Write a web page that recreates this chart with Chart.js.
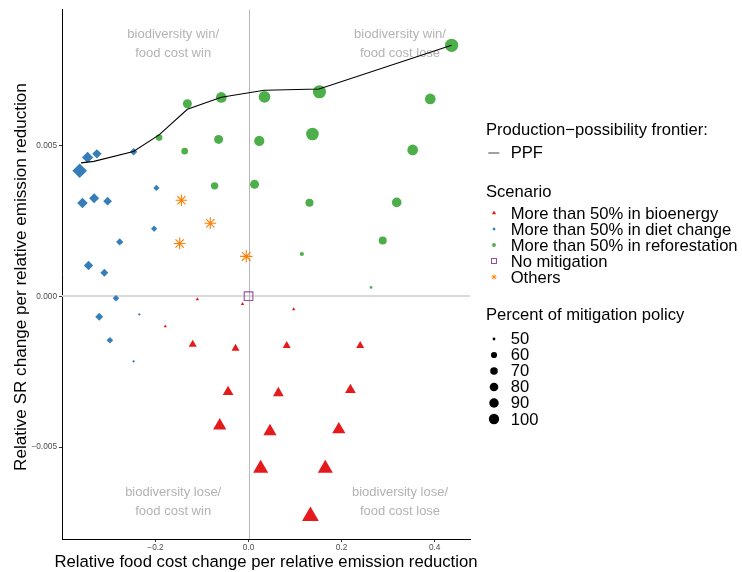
<!DOCTYPE html>
<html>
<head>
<meta charset="utf-8">
<script src="https://cdn.jsdelivr.net/npm/chart.js@4.4.0/dist/chart.umd.min.js"></script>
<style>
  body { margin: 0; background: #fff; font-family: "Liberation Sans", Arial, sans-serif; }
  #wrap { position: relative; width: 742px; height: 572px; }
  #legend { position: absolute; left: 0; top: 0; width: 742px; height: 572px; pointer-events: none; }
  .lg { position: absolute; font-size: 16.6px; line-height: 20px; color: #000; white-space: nowrap; }
  .key { position: absolute; width: 14px; height: 14px; }
</style>
</head>
<body>
<div id="wrap">
  <canvas id="chart" width="742" height="572"></canvas>
  <div id="legend"></div>
</div>
<script>
// Scenario: more than 50% in bioenergy
const bioX = [-0.110, -0.013, 0.097, -0.179, -0.120, -0.028, 0.082, 0.240, -0.044, 0.064, 0.219, -0.062, 0.046, 0.194, 0.026, 0.165, 0.133];
const bioY = [-0.00010, -0.00026, -0.00043, -0.00100, -0.00160, -0.00173, -0.00164, -0.00164, -0.00317, -0.00321, -0.00311, -0.00429, -0.00448, -0.00442, -0.00571, -0.00571, -0.00729];
const bioPct = [50, 50, 50, 50, 56, 56, 56, 56, 65, 65, 65, 77, 77, 77, 88, 88, 100];

// Scenario: more than 50% in diet change
const dietX = [-0.363, -0.346, -0.326, -0.247, -0.198, -0.357, -0.332, -0.303, -0.203, -0.277, -0.344, -0.310, -0.285, -0.321, -0.235, -0.298, -0.247];
const dietY = [0.00416, 0.00460, 0.00472, 0.00479, 0.00359, 0.00309, 0.00325, 0.00315, 0.00224, 0.00180, 0.00102, 0.00078, -0.00007, -0.00068, -0.00060, -0.00146, -0.00216];
const dietPct = [99, 75, 65, 57, 54, 71, 68, 62, 54, 57, 65, 59, 55, 59, 50, 55, 50];

// Scenario: more than 50% in reforestation
const forestX = [0.4365, 0.3906, 0.1524, 0.0343, -0.0586, -0.1315, 0.1373, 0.0230, -0.0644, -0.1923, -0.1373, 0.3528, -0.0730, 0.0129, 0.1309, 0.3185, 0.2884, 0.1146, 0.2633];
const forestY = [0.00832, 0.00654, 0.00678, 0.00661, 0.00659, 0.00638, 0.00538, 0.00515, 0.00520, 0.00526, 0.00481, 0.00485, 0.00366, 0.00371, 0.00310, 0.00311, 0.00185, 0.00140, 0.00029];
const forestPct = [100, 79, 100, 87, 79, 68, 95, 76, 68, 57, 57, 79, 60, 68, 63, 72, 63, 51, 50];

// Scenario: no mitigation
const noneX = [0];
const noneY = [0];

// Scenario: others
const otherX = [-0.1444, -0.0822, -0.1481, -0.0049];
const otherY = [0.00318, 0.00242, 0.00175, 0.00132];
const otherPct = [85, 87, 87, 92];

// Production-possibility frontier
const ppfX = [-0.3601, -0.3326, -0.2474, -0.1923, -0.1315, -0.0586, 0.0337, 0.1517, 0.4365];
const ppfY = [0.00442, 0.00447, 0.00480, 0.00535, 0.00620, 0.00660, 0.00683, 0.00687, 0.00832];

const scenarioNames = ['More than 50% in bioenergy', 'More than 50% in diet change', 'More than 50% in reforestation', 'No mitigation', 'Others'];
const sizeBreaks = [50, 60, 70, 80, 90, 100];
const xTicks = [-0.2, 0, 0.2, 0.4];
const yTicks = [-0.005, 0, 0.005];
const xTitle = 'Relative food cost change per relative emission reduction';
const yTitle = 'Relative SR change per relative emission reduction';

const quadrantText = [
  { x: -0.162, y: 0.008235, lines: ['biodiversity win/', 'food cost win'] },
  { x: 0.3255, y: 0.008235, lines: ['biodiversity win/', 'food cost lose'] },
  { x: -0.162, y: -0.00694, lines: ['biodiversity lose/', 'food cost win'] },
  { x: 0.3255, y: -0.00694, lines: ['biodiversity lose/', 'food cost lose'] }
];

const FONT = '"Liberation Sans", Arial, sans-serif';
const colors = { bio: '#E41A1C', diet: '#377EB8', forest: '#4DAF4A', none: '#984EA3', other: '#FF7F00' };

// ggplot-like area scale for the percent
const sizeOf = p => 1 + 5 * Math.sqrt(Math.max(0, (p - 50) / 50));
const circleR = p => 1.05 * sizeOf(p) + 0.3;
const diamondR = p => 1.2 * sizeOf(p) + 0.2;
const triangleR = p => 1.55 * sizeOf(p) + 0.4;

const pts = (xs, ys, ps) => xs.map((x, i) => ({ x: x, y: ys[i], p: ps ? ps[i] : null }));
const minus = s => s.replace('-', '\u2212');

// zero lines + quadrant captions under the points
const refLines = {
  id: 'refLines',
  beforeDatasetsDraw(chart) {
    const { ctx, chartArea: a, scales: { x, y } } = chart;
    ctx.save();
    const py = Math.round(y.getPixelForValue(0));
    ctx.strokeStyle = '#d9d9d9';
    ctx.lineWidth = 2;
    ctx.beginPath(); ctx.moveTo(a.left, py); ctx.lineTo(a.right, py); ctx.stroke();
    const px = Math.round(x.getPixelForValue(0)) + 0.5;
    ctx.strokeStyle = '#b8b8b8';
    ctx.lineWidth = 1;
    ctx.beginPath(); ctx.moveTo(px, a.top); ctx.lineTo(px, a.bottom); ctx.stroke();

    ctx.fillStyle = '#b3b3b3';
    ctx.font = '13px ' + FONT;
    ctx.textAlign = 'center';
    ctx.textBaseline = 'alphabetic';
    quadrantText.forEach(q => {
      const cx = x.getPixelForValue(q.x);
      const cy = y.getPixelForValue(q.y);
      ctx.fillText(q.lines[0], cx, cy - 9.5);
      ctx.fillText(q.lines[1], cx, cy + 9.5);
    });
    ctx.restore();
  }
};

// axis titles drawn by hand: the built-in x title gets squeezed to the plot width
const axisTitles = {
  id: 'axisTitles',
  afterDraw(chart) {
    const { ctx, chartArea: a } = chart;
    ctx.save();
    ctx.fillStyle = '#000';
    ctx.textAlign = 'center';
    ctx.textBaseline = 'alphabetic';
    ctx.font = '16.7px ' + FONT;
    ctx.fillText(xTitle, (a.left + a.right) / 2, chart.height - 5.3);
    ctx.font = '17.1px ' + FONT;
    ctx.translate(26, (a.top + a.bottom) / 2 + 2.7);
    ctx.rotate(-Math.PI / 2);
    ctx.fillText(yTitle, 0, 0);
    ctx.restore();
  }
};

new Chart(document.getElementById('chart'), {
  type: 'scatter',
  data: {
    datasets: [
      {
        label: 'PPF', data: pts(ppfX, ppfY), showLine: true, order: 0,
        borderColor: '#000', borderWidth: 1.1, pointRadius: 0, fill: false, tension: 0
      },
      {
        label: scenarioNames[0], data: pts(bioX, bioY, bioPct), order: 1,
        pointStyle: 'triangle', backgroundColor: colors.bio, borderWidth: 0,
        pointRadius: c => triangleR(c.raw.p)
      },
      {
        label: scenarioNames[1], data: pts(dietX, dietY, dietPct), order: 1,
        pointStyle: 'rectRot', backgroundColor: colors.diet, borderWidth: 0,
        pointRadius: c => diamondR(c.raw.p)
      },
      {
        label: scenarioNames[2], data: pts(forestX, forestY, forestPct), order: 1,
        pointStyle: 'circle', backgroundColor: colors.forest, borderWidth: 0,
        pointRadius: c => circleR(c.raw.p)
      },
      {
        label: scenarioNames[3], data: pts(noneX, noneY), order: 1,
        pointStyle: 'rect', backgroundColor: 'rgba(0,0,0,0)', borderColor: colors.none, borderWidth: 1.1,
        pointRadius: 6.1
      },
      {
        label: scenarioNames[4], data: pts(otherX, otherY, otherPct), order: 1,
        pointStyle: 'star', backgroundColor: colors.other, borderColor: colors.other, borderWidth: 1.1,
        pointRadius: c => circleR(c.raw.p)
      }
    ]
  },
  options: {
    responsive: false,
    animation: false,
    devicePixelRatio: 1,
    layout: { padding: { top: 9, right: 272, left: 0, bottom: 0 } },
    plugins: { legend: { display: false }, tooltip: { enabled: false } },
    scales: {
      x: {
        type: 'linear', min: -0.401, max: 0.476,
        afterFit: s => { s.height = 33; },
        afterBuildTicks: s => { s.ticks = xTicks.map(v => ({ value: v })); },
        ticks: {
          callback: v => minus(v.toFixed(1)),
          color: '#4d4d4d', font: { size: 8.3, family: FONT }, padding: 1,
          maxRotation: 0, autoSkip: false
        },
        grid: { drawOnChartArea: false, tickLength: 3, tickColor: '#333', tickWidth: 1 },
        border: { display: true, color: '#000', width: 1 },
        title: { display: false }
      },
      y: {
        type: 'linear', min: -0.00805, max: 0.0095,
        afterFit: s => { s.width = 62; },
        afterBuildTicks: s => { s.ticks = yTicks.map(v => ({ value: v })); },
        ticks: {
          callback: v => minus(v.toFixed(3)),
          color: '#4d4d4d', font: { size: 8.3, family: FONT }, padding: 2, autoSkip: false
        },
        grid: { drawOnChartArea: false, tickLength: 3, tickColor: '#333', tickWidth: 1 },
        border: { display: true, color: '#000', width: 1 },
        title: { display: false }
      }
    }
  },
  plugins: [refLines, axisTitles]
});

// Legend (HTML)
const legendEl = document.getElementById('legend');
const titleX = 486, keyX = 494, labelX = 510.7;

function addText(text, left, baseline) {
  const d = document.createElement('div');
  d.className = 'lg';
  d.textContent = text;
  d.style.left = left + 'px';
  d.style.top = (baseline - 15.75) + 'px';
  legendEl.appendChild(d);
}
function addKey(svg, cx, cy) {
  const d = document.createElement('div');
  d.className = 'key';
  d.style.left = (cx - 7) + 'px';
  d.style.top = (cy - 7) + 'px';
  d.innerHTML = '<svg width="14" height="14" viewBox="-7 -7 14 14">' + svg + '</svg>';
  legendEl.appendChild(d);
}

addText('Production\u2212possibility frontier:', titleX, 136);
addKey('<line x1="-5.7" y1="0" x2="5.3" y2="0" stroke="#444" stroke-width="1"/>', keyX, 153.3);
addText('PPF', labelX, 158.7);

addText('Scenario', titleX, 197.3);
const scenarioKeys = [
  '<polygon points="0,-2.4 2.1,1.3 -2.1,1.3" fill="' + colors.bio + '"/>',
  '<polygon points="0,-1.7 1.7,0 0,1.7 -1.7,0" fill="' + colors.diet + '"/>',
  '<circle cx="0" cy="0" r="1.9" fill="' + colors.forest + '"/>',
  '<rect x="-2.5" y="-2.5" width="5" height="5" fill="none" stroke="' + colors.none + '" stroke-width="1"/>',
  '<g stroke="' + colors.other + '" stroke-width="0.9"><line x1="-2.5" y1="0" x2="2.5" y2="0"/><line x1="0" y1="-2.5" x2="0" y2="2.5"/><line x1="-1.8" y1="-1.8" x2="1.8" y2="1.8"/><line x1="-1.8" y1="1.8" x2="1.8" y2="-1.8"/></g>'
];
scenarioNames.forEach((name, i) => {
  const base = 219.7 + 16.07 * i;
  addKey(scenarioKeys[i], keyX, base - 6.8);
  addText(name, labelX, base);
});

addText('Percent of mitigation policy', titleX, 320.3);
sizeBreaks.forEach((p, i) => {
  const base = 345 + 16.06 * i;
  const r = 0.75 * sizeOf(p) + 0.65;
  addKey('<circle cx="0" cy="0" r="' + r.toFixed(2) + '" fill="#000"/>', keyX, base - 6.3);
  addText(String(p), labelX, base);
});
</script>
</body>
</html>
